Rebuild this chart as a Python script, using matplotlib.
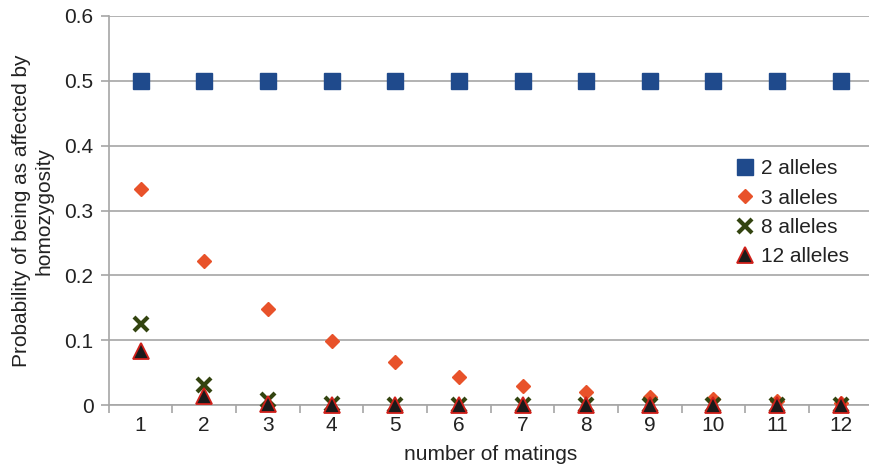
import matplotlib
matplotlib.use("Agg")
import matplotlib.pyplot as plt
import numpy as np

plt.rcParams['font.family'] = ['Liberation Sans', 'DejaVu Sans']

matings = [1, 2, 3, 4, 5, 6, 7, 8, 9, 10, 11, 12]
alleles2 = [0.5, 0.5, 0.5, 0.5, 0.5, 0.5, 0.5, 0.5, 0.5, 0.5, 0.5, 0.5]
alleles3 = [0.333, 0.222, 0.148, 0.099, 0.066, 0.044, 0.029, 0.020, 0.013, 0.009, 0.006, 0.004]
alleles8 = [0.125, 0.031, 0.008, 0.002, 0.0005, 0.0001, 0.0, 0.0, 0.0, 0.0, 0.0, 0.0]
alleles12 = [0.083, 0.014, 0.002, 0.0004, 0.0, 0.0, 0.0, 0.0, 0.0, 0.0, 0.0, 0.0]
y_ticks = [0, 0.1, 0.2, 0.3, 0.4, 0.5, 0.6]
y_tick_labels = ['0', '0.1', '0.2', '0.3', '0.4', '0.5', '0.6']

FS = 15
fig = plt.figure(figsize=(8.7, 4.7), dpi=100)
ax = fig.add_axes([0.125, 0.138, 0.878, 0.828])

grid_c = '#a6a6a6'
ax.set_ylim(0, 0.6)
ax.set_xlim(0.5, 12.5)
ax.set_yticks(y_ticks)
ax.set_yticklabels(y_tick_labels)
ax.yaxis.grid(True, color=grid_c, linewidth=1.2, zorder=0)
ax.set_axisbelow(True)
for s in ['top', 'right']:
    ax.spines[s].set_visible(False)
for s in ['left', 'bottom']:
    ax.spines[s].set_color(grid_c)
    ax.spines[s].set_linewidth(1.2)

ax.set_xticks(matings)
ax.set_xticklabels([str(m) for m in matings])
ax.set_xticks(np.arange(0.5, 13, 1), minor=True)
ax.tick_params(axis='x', which='major', length=0, labelsize=FS, colors='#222222', pad=8)
ax.tick_params(axis='x', which='minor', length=6, color=grid_c, width=1.2)
ax.tick_params(axis='y', length=6, color=grid_c, width=1.2, labelsize=FS, labelcolor='#222222', pad=5)

ax.plot(matings, alleles2, linestyle='none', marker='s', markersize=11,
        color='#1f4a8c', label='2 alleles', zorder=3, clip_on=False)
ax.plot(matings, alleles3, linestyle='none', marker='D', markersize=7.5,
        color='#e8522a', label='3 alleles', zorder=4, clip_on=False)
ax.plot(matings, alleles8, linestyle='none', marker='x', markersize=10, markeredgewidth=3,
        color='#334410', label='8 alleles', zorder=5, clip_on=False)
ax.plot(matings, alleles12, linestyle='none', marker='^', markersize=11, markeredgewidth=1.3,
        markerfacecolor='#1a1a1a', markeredgecolor='#d0201a', label='12 alleles', zorder=6, clip_on=False)

leg = ax.legend(loc='upper left', bbox_to_anchor=(0.803, 0.658), frameon=False, fontsize=FS,
                handletextpad=0.15, labelspacing=0.49, handlelength=1.2, borderpad=0)
for t in leg.get_texts():
    t.set_color('#222222')

ax.set_xlabel('number of matings', fontsize=FS, color='#222222', labelpad=7)
ax.set_ylabel('Probability of being as affected by\nhomozygosity', fontsize=FS,
              color='#222222', linespacing=1.2, labelpad=8)

fig.savefig('out.png', dpi=100)
